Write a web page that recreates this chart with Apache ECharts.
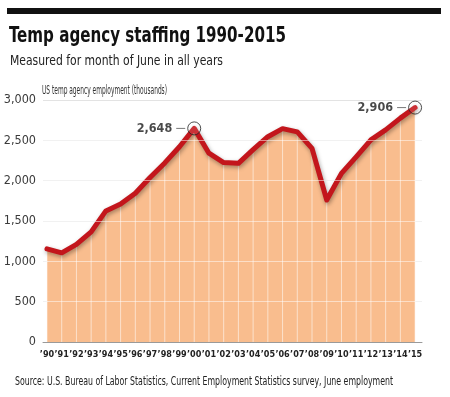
<!DOCTYPE html>
<html>
<head>
<meta charset="utf-8">
<script src="https://cdn.jsdelivr.net/npm/echarts@6/dist/echarts.min.js"></script>
<style>
  html, body { margin: 0; padding: 0; background: #fff; }
  #chart { width: 450px; height: 397px; }
</style>
</head>
<body>
<div id="chart"></div>
<script>
// 数据: 每年六月的临时工派遣人数(千人)
var years = [1990, 1991, 1992, 1993, 1994, 1995, 1996, 1997, 1998, 1999, 2000, 2001, 2002,
             2003, 2004, 2005, 2006, 2007, 2008, 2009, 2010, 2011, 2012, 2013, 2014, 2015];
var staffing = [1155, 1105, 1210, 1365, 1625, 1710, 1845, 2040, 2220, 2420, 2648, 2340, 2225,
                2215, 2385, 2545, 2645, 2605, 2400, 1760, 2090, 2295, 2505, 2630, 2775, 2906];
var highlightYears = [2000, 2015];
var yTicks = [500, 1000, 1500, 2000, 2500];

var narrow = '"Liberation Sans Narrow", "DejaVu Sans Condensed", "Liberation Sans", sans-serif';

// 按目标宽度算横向缩放
function fitScale(text, font, target) {
	var ctx = document.createElement('canvas').getContext('2d');
	ctx.font = font;
	return target / ctx.measureText(text).width;
}

function fmt(v) {
	return String(v).replace(/\B(?=(\d{3})+(?!\d))/g, ',');
}

var points = years.map(function (y, i) { return [y, staffing[i]]; });
var marks = highlightYears.map(function (y) { return [y, staffing[years.indexOf(y)]]; });

function textEl(text, x, y, size, weight, color, width) {
	var font = weight + ' ' + size + 'px ' + narrow;
	return {
		type: 'text',
		x: x,
		y: y,
		scaleX: fitScale(text, font, width),
		silent: true,
		style: {
			text: text,
			font: font,
			fill: color,
			verticalAlign: 'middle'
		}
	};
}

var titleText = 'Temp agency staffing 1990-2015';
var subText = 'Measured for month of June in all years';
var axisText = 'US temp agency employment (thousands)';
var sourceText = 'Source: U.S. Bureau of Labor Statistics, Current Employment Statistics survey, June employment';

var chart = echarts.init(document.getElementById('chart'));
chart.setOption({
	backgroundColor: '#fff',
	animation: false,
	grid: {
		left: 43,
		right: 28,
		top: 100,
		bottom: 55,
		containLabel: false,
		outerBoundsMode: 'none'
	},
	xAxis: {
		type: 'value',
		min: 1989.73,
		max: 2015.47,
		splitLine: { show: false },
		axisTick: { show: false },
		axisLine: { show: true, lineStyle: { color: '#9a9a9a', width: 1 } },
		axisLabel: {
			customValues: years,
			hideOverlap: false,
			showMinLabel: true,
			showMaxLabel: true,
			margin: 8,
			fontFamily: narrow,
			fontWeight: 'bold',
			fontSize: 9,
			color: '#222',
			formatter: function (v) { return '\u2019' + String(v).slice(2); }
		}
	},
	yAxis: {
		type: 'value',
		min: 0,
		max: 3000,
		interval: 500,
		axisLine: { show: false },
		axisTick: { show: false },
		splitLine: { lineStyle: { color: '#e3e3e3', width: 1 } },
		axisLabel: {
			margin: 7,
			fontFamily: narrow,
			fontSize: 12.5,
			color: '#3a3a3a',
			formatter: fmt
		}
	},
	series: [
		{
			// 橙色填充
			type: 'line',
			data: points,
			symbol: 'none',
			z: 1,
			lineStyle: { width: 0 },
			areaStyle: { color: '#f9bd8e', opacity: 1 },
			silent: true
		},
		{
			// 填充内的浅色网格
			type: 'bar',
			data: points,
			barWidth: 1,
			z: 2,
			silent: true,
			itemStyle: { color: 'rgba(255,255,255,0.55)' },
			markLine: {
				silent: true,
				symbol: 'none',
				label: { show: false },
				lineStyle: { color: 'rgba(255,255,255,0.5)', width: 1, type: 'solid' },
				data: yTicks.map(function (v) { return { yAxis: v }; })
			}
		},
		{
			type: 'line',
			data: points,
			symbol: 'none',
			z: 3,
			silent: true,
			lineStyle: {
				color: '#c3161c',
				width: 5,
				cap: 'round',
				join: 'round',
				shadowColor: 'rgba(0,0,0,0.35)',
				shadowBlur: 4,
				shadowOffsetX: 1,
				shadowOffsetY: 2
			}
		},
		{
			type: 'scatter',
			data: marks,
			symbol: 'circle',
			symbolSize: 13,
			z: 4,
			silent: true,
			itemStyle: { color: 'rgba(255,255,255,0.15)', borderColor: '#222', borderWidth: 1 },
			label: {
				show: true,
				position: 'left',
				distance: 2,
				formatter: function (p) { return '{v|' + fmt(p.value[1]) + '}{g|}{d|}'; },
				rich: {
					v: { fontFamily: narrow, fontWeight: 'bold', fontSize: 12.5, color: '#1a1a1a' },
					g: { width: 4 },
					d: { width: 9, height: 1, backgroundColor: '#555', verticalAlign: 'middle' }
				}
			}
		}
	],
	graphic: [
		{ type: 'rect', shape: { x: 7, y: 8, width: 434, height: 6 }, style: { fill: '#111' }, silent: true },
		textEl(titleText, 9, 36, 22, 'bold', '#111', 277),
		textEl(subText, 10, 61, 13.5, 'normal', '#222', 213),
		textEl(axisText, 42, 90.5, 12.5, 'normal', '#333', 125),
		textEl(sourceText, 15, 382.5, 11.5, 'normal', '#222', 378)
	]
});
</script>
</body>
</html>
